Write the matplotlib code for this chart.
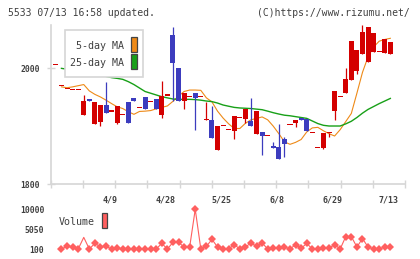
import numpy as np
import matplotlib
matplotlib.use("Agg")
import matplotlib.pyplot as plt
from matplotlib.patches import Rectangle

# daily candles
opens  = [2005, 1969, 1964, 1962, 1962, 1919, 1945, 1904, 1907, 1937,
          1925, 1906, 1919, 1942, 1949, 1931, 1950, 1941, 1947, 1920,
          1953, 2058, 2000, 1944, 1950, 1957, 1950, 1910, 1911, 1859,
          1900, 1893, 1892, 1914, 1913, 1909, 1886, 1890, 1883, 1866,
          1864, 1878, 1902, 1906, 1915, 1912, 1888, 1862, 1863, 1888,
          1927, 1950, 1958, 1980, 1996, 2024, 2011, 2028, 2028, 2027, 2024]
highs  = [2005, 1969, 1964, 1962, 1962, 1954, 1945, 1942, 1937, 1977,
          1925, 1935, 1919, 1942, 1949, 1931, 1950, 1941, 1947, 1978,
          1953, 2072, 2000, 1957, 1950, 1957, 1950, 1942, 1935, 1900,
          1900, 1893, 1918, 1914, 1930, 1949, 1927, 1890, 1883, 1873,
          1904, 1882, 1902, 1911, 1915, 1912, 1888, 1862, 1888, 1888,
          1961, 1950, 2001, 2047, 2032, 2075, 2071, 2061, 2028, 2051, 2046]
lows   = [2005, 1969, 1964, 1962, 1962, 1919, 1944, 1904, 1900, 1923,
          1925, 1903, 1919, 1906, 1944, 1931, 1930, 1941, 1930, 1915,
          1953, 1944, 1944, 1930, 1950, 1893, 1950, 1910, 1880, 1859,
          1900, 1893, 1877, 1914, 1905, 1900, 1886, 1850, 1883, 1863,
          1844, 1846, 1902, 1899, 1911, 1892, 1888, 1862, 1861, 1882,
          1910, 1950, 1958, 1980, 1990, 2024, 2011, 2028, 2028, 2027, 2024]
closes = [2005, 1969, 1964, 1962, 1962, 1944, 1944, 1942, 1937, 1923,
          1925, 1935, 1919, 1906, 1944, 1931, 1930, 1941, 1930, 1953,
          1953, 2010, 1944, 1957, 1950, 1949, 1950, 1910, 1880, 1900,
          1900, 1893, 1918, 1914, 1930, 1900, 1927, 1883, 1883, 1863,
          1844, 1870, 1902, 1911, 1911, 1892, 1888, 1862, 1888, 1888,
          1961, 1950, 1982, 2047, 2032, 2063, 2071, 2061, 2028, 2051, 2046]

ma5 = [np.nan, 1968, 1966.5, 1968, 1970, 1972, 1961, 1955, 1950.5, 1945,
       1939, 1933.5, 1930.5, 1925, 1920.5, 1925.5, 1926, 1927, 1930, 1932.5,
       1935, 1943, 1952, 1960, 1962.5, 1962.5, 1962, 1949, 1942, 1926,
       1914, 1904, 1896, 1896, 1905, 1911, 1913.5, 1916, 1911, 1900,
       1887, 1873, 1868.6, 1872, 1877, 1890, 1897, 1898, 1892, 1887,
       1883, 1894, 1908, 1922, 1957, 1993, 2020, 2037, 2047, 2050, 2052]
ma25 = [np.nan, 2000, 1998.5, 1997, 1995.5, 1994, 1992, 1990, 1988, 1986,
        1984, 1982.7, 1981, 1977, 1972, 1966, 1960, 1957, 1954, 1951,
        1949, 1947, 1946.4, 1946.4, 1946.4, 1946, 1945, 1943.5, 1942.5, 1940,
        1936.6, 1934.5, 1932.5, 1931.5, 1931, 1930.5, 1929.5, 1928.5, 1926, 1923.3,
        1921, 1919, 1918, 1916.5, 1915, 1913.5, 1909, 1904.5, 1901.5, 1900.3,
        1900.3, 1900.3, 1904, 1908.5, 1915, 1922.5, 1929, 1934, 1939, 1943.5, 1948]

volume = [100, 770, 620, 100, 3000, 100, 1520, 620, 770, 100,
          270, 100, 100, 100, 100, 100, 100, 100, 1500, 100,
          1750, 1750, 600, 600, 10000, 100, 770, 2500, 600, 100,
          100, 1200, 100, 600, 1600, 770, 1600, 100, 270, 270,
          600, 100, 1200, 270, 1500, 100, 100, 270, 270, 1200,
          100, 3200, 3200, 600, 2700, 600, 100, 100, 600, 600]

date_labels = ["4/9", "4/28", "5/25", "6/8", "6/29", "7/13"]
date_idx = [10, 20, 30, 40, 50, 60]

RED = "#d40000"
BLUE = "#3c3cbe"
ORANGE = "#ee8a18"
GREEN = "#18a018"
VOLC = "#ff5f5f"
GRID = "#d6d6d6"
TXT = "#404040"
MONO = "DejaVu Sans Mono"

W, H = 420, 259
fig = plt.figure(figsize=(W / 100, H / 100), dpi=100)


def px(x, y):
    return x / W, 1 - y / H


xlim = (-0.93, 62.63)
ax = fig.add_axes([50.7 / W, 1 - 184 / H, (405 - 50.7) / W, (184 - 25) / H])
ax.set_xlim(*xlim)
ax.set_ylim(1800, 2075)

x = np.arange(len(opens))
o = np.array(opens, float)
c = np.array(closes, float)
cols = [RED if cc >= oo else BLUE for oo, cc in zip(o, c)]
bottom = np.minimum(o, c)
height = np.maximum(np.abs(c - o), 2.5)
ax.vlines(x, lows, highs, colors=cols, lw=0.9, zorder=3)
ax.bar(x, height, 0.9, bottom=bottom, color=cols, lw=0, zorder=3)

ax.plot(x, ma5, color=ORANGE, lw=0.8, zorder=2)
ax.plot(x, ma25, color=GREEN, lw=1.0, zorder=2)

for s in ["top", "right"]:
    ax.spines[s].set_visible(False)
for s in ["left", "bottom"]:
    ax.spines[s].set_color(GRID)
    ax.spines[s].set_linewidth(1.2)
ax.set_yticks([1800, 2000], ["1800", "2000"])
ax.set_xticks(np.linspace(xlim[0], xlim[1], 12), [])
ax.set_xticks([i - 0.3 for i in date_idx], date_labels, minor=True)
ax.tick_params(axis="both", which="major", direction="inout", length=6,
               width=1, color=GRID)
ax.tick_params(axis="y", labelsize=5.8, labelcolor=TXT, pad=5)
ax.tick_params(axis="x", which="minor", length=0, labelsize=6,
               labelcolor=TXT, pad=8)
for t in ax.get_yticklabels() + ax.get_xticklabels(minor=True):
    t.set_family(MONO)
    t.set_fontweight("bold")

# legend box
fig.patches.append(Rectangle(px(65, 77), 78 / W, 47 / H, transform=fig.transFigure,
                             facecolor="white", edgecolor=GRID, lw=1.2, zorder=5))
fig.text(*px(124, 46), "5-day MA", ha="right", va="center", family=MONO,
         size=7.2, color=TXT, zorder=6)
fig.text(*px(124, 62.5), "25-day MA", ha="right", va="center", family=MONO,
         size=7.2, color=TXT, zorder=6)
fig.patches.append(Rectangle(px(131, 51.7), 6.3 / W, 14.4 / H, transform=fig.transFigure,
                             facecolor=ORANGE, edgecolor="#444444", lw=0.9, zorder=6))
fig.patches.append(Rectangle(px(131, 69.3), 6.3 / W, 15 / H, transform=fig.transFigure,
                             facecolor=GREEN, edgecolor="#444444", lw=0.9, zorder=6))

# volume panel
vax = fig.add_axes([50.7 / W, 1 - 255 / H, (405 - 50.7) / W, 50 / H])
vax.set_xlim(*xlim)
vax.set_ylim(-1396, 11072)
vx = np.arange(1, len(volume) + 1)
marks = [i for i in range(len(volume)) if i != 4]
vax.plot(vx, volume, color=VOLC, lw=0.8, marker="D", markersize=3.6,
         markevery=marks, markeredgewidth=0)
for s in vax.spines.values():
    s.set_visible(False)
vax.set_xticks([])
vax.set_yticks([100, 5050, 10000], ["100", "5050", "10000"])
vax.tick_params(axis="y", length=0, labelsize=5.8, labelcolor=TXT, pad=4.6)
for t in vax.get_yticklabels():
    t.set_family(MONO)
    t.set_fontweight("bold")
fig.text(*px(59, 222), "Volume", ha="left", va="center", family=MONO,
         size=7.2, color=TXT)
fig.patches.append(Rectangle(px(101.7, 228), 5.6 / W, 15 / H, transform=fig.transFigure,
                             facecolor=VOLC, edgecolor="#444444", lw=0.9))

fig.text(*px(8, 12.5), "5533 07/13 16:58 updated.", ha="left", va="center",
         family=MONO, size=7.0, color=TXT)
fig.text(*px(410, 12.5), "(C)https://www.rizumu.net/", ha="right", va="center",
         family=MONO, size=7.0, color=TXT)

fig.savefig("out.png", dpi=100)
